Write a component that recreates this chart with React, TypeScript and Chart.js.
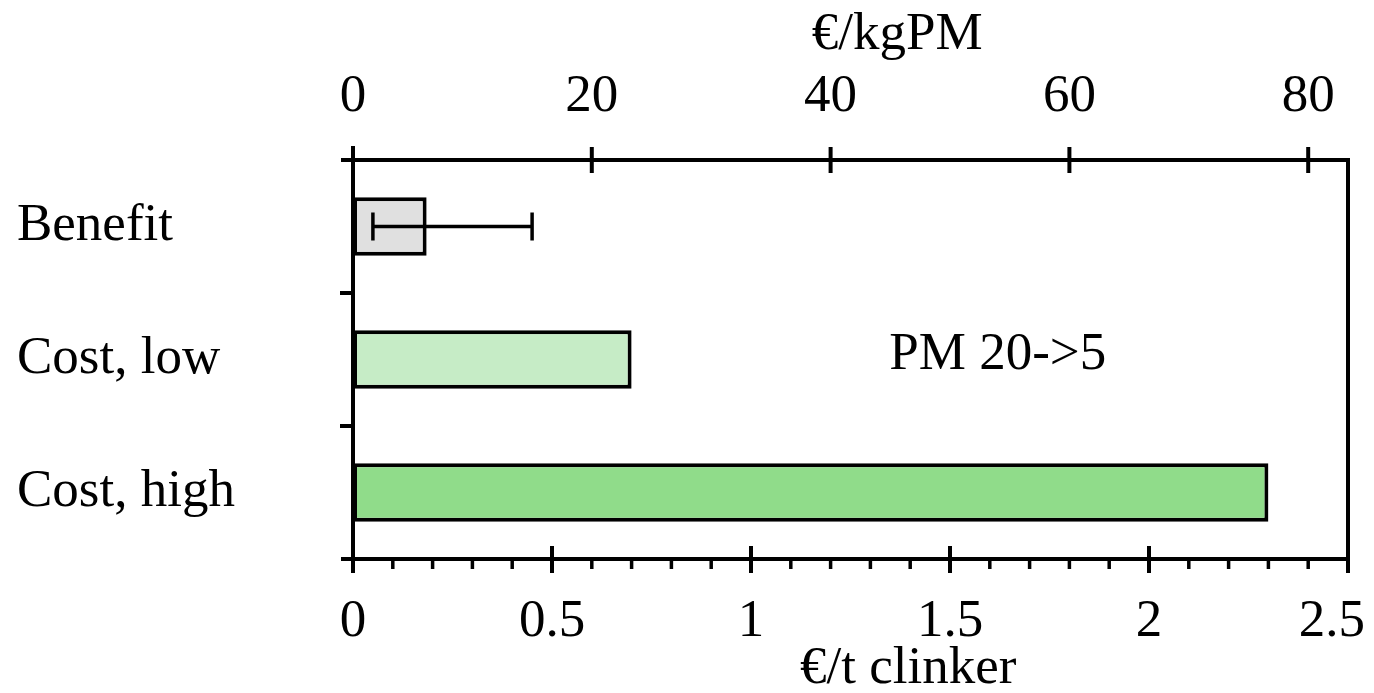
import React, { useEffect, useRef } from "react";
import { Chart, registerables } from "chart.js";

Chart.register(...registerables);

const CATEGORIES = ["Benefit", "Cost, low", "Cost, high"];
const VALUES = [0.185, 0.7, 2.3];
const ERROR_LOW = [0.05, null, null];
const ERROR_HIGH = [0.45, null, null];
const BAR_COLORS = ["#e0e0e0", "#c6ecc6", "#90dc8a"];
const BOTTOM_TICKS = [0, 0.5, 1, 1.5, 2, 2.5];
const BOTTOM_MINOR_TENTHS = 25; // minor ticks every 0.1 up to 2.5
const TOP_TICKS = [0, 20, 40, 60, 80];
const X_MAX = 2.5;
const KGPM_PER_T_CLINKER = 100 / 3; // €/kgPM per €/t clinker
const ANNOTATION = "PM 20->5";
const ANNOTATION_X = 1.62;
const ANNOTATION_CATEGORY = 1;
const TOP_TITLE = "€/kgPM";
const BOTTOM_TITLE = "€/t clinker";

const FONT_FAMILY = "'Liberation Serif', 'Times New Roman', serif";
const FONT_SIZE = 53;

const axesPlugin = {
  id: "customAxes",
  afterDraw(chart: any) {
    const { ctx, chartArea, scales, width } = chart;
    const { left, right, top, bottom } = chartArea;
    const x = scales.x;
    const x2 = scales.x2;
    const y = scales.y;
    ctx.save();
    ctx.strokeStyle = "#000";
    ctx.lineWidth = 4;
    ctx.lineCap = "butt";
    const line = (x1: number, y1: number, xx: number, yy: number) => {
      ctx.beginPath();
      ctx.moveTo(x1, y1);
      ctx.lineTo(xx, yy);
      ctx.stroke();
    };
    // frame
    line(left - 12, top, right + 2, top);
    line(left - 12, bottom, right + 2, bottom);
    line(left, top - 14, left, bottom + 14);
    line(right, top, right, bottom + 14);
    // bottom major ticks
    BOTTOM_TICKS.forEach((v) => {
      const px = x.getPixelForValue(v);
      line(px, bottom - 13, px, bottom + 14);
    });
    // bottom minor ticks
    ctx.lineWidth = 3.5;
    for (let i = 0; i <= BOTTOM_MINOR_TENTHS; i++) {
      if (i % 5 === 0) continue;
      const px = x.getPixelForValue(i / 10);
      line(px, bottom, px, bottom + 10);
    }
    ctx.lineWidth = 4;
    // top major ticks
    TOP_TICKS.forEach((v) => {
      const px = x2.getPixelForValue(v);
      line(px, top - 13, px, top + 13);
    });
    // left category boundary ticks
    for (let i = 1; i < CATEGORIES.length; i++) {
      const py = (y.getPixelForValue(i - 1) + y.getPixelForValue(i)) / 2;
      line(left - 13, py, left, py);
    }
    // error bars
    ctx.lineWidth = 3.5;
    CATEGORIES.forEach((_, i) => {
      const lo = ERROR_LOW[i];
      const hi = ERROR_HIGH[i];
      if (lo == null || hi == null) return;
      const py = y.getPixelForValue(i);
      const pl = x.getPixelForValue(lo);
      const ph = x.getPixelForValue(hi);
      line(pl, py, ph, py);
      line(pl, py - 14, pl, py + 14);
      line(ph, py - 14, ph, py + 14);
    });
    // tick labels of the two value axes
    ctx.fillStyle = "#000";
    ctx.font = `${FONT_SIZE}px ${FONT_FAMILY}`;
    ctx.textBaseline = "alphabetic";
    ctx.textAlign = "left";
    const drawLabel = (text: string, cx: number, baseline: number) => {
      const w = ctx.measureText(text).width;
      let lx = cx - w / 2;
      if (lx + w > width - 9) lx = width - 9 - w;
      ctx.fillText(text, lx, baseline);
    };
    x.ticks.forEach((t: any) => {
      drawLabel(String(t.value), x.getPixelForValue(t.value), bottom + 77);
    });
    x2.ticks.forEach((t: any) => {
      drawLabel(String(t.value), x2.getPixelForValue(t.value), top - 49);
    });
    // annotation and titles
    ctx.textAlign = "center";
    ctx.textBaseline = "middle";
    ctx.fillText(
      ANNOTATION,
      x.getPixelForValue(ANNOTATION_X),
      y.getPixelForValue(ANNOTATION_CATEGORY) - 4
    );
    const w = right - left;
    ctx.fillText(TOP_TITLE, left + w * 0.547, 35);
    ctx.fillText(BOTTOM_TITLE, left + w * 0.558, bottom + 110);
    ctx.restore();
  },
};

export default function App() {
  const canvasRef = useRef<HTMLCanvasElement | null>(null);

  useEffect(() => {
    document.body.style.margin = "0";
    const canvas = canvasRef.current;
    if (!canvas) return;
    const tickFont = { family: FONT_FAMILY, size: FONT_SIZE };
    const chart = new Chart(canvas, {
      type: "bar",
      data: {
        labels: CATEGORIES,
        datasets: [
          {
            data: VALUES,
            xAxisID: "x",
            yAxisID: "y",
            backgroundColor: BAR_COLORS,
            borderColor: "#000",
            borderWidth: 4,
            borderSkipped: false,
            barPercentage: 0.44,
            categoryPercentage: 1,
          },
        ],
      },
      options: {
        indexAxis: "y",
        animation: false,
        responsive: false,
        maintainAspectRatio: false,
        devicePixelRatio: 1,
        layout: { padding: { left: 17, right: 26, top: 0, bottom: 0 } },
        plugins: {
          legend: { display: false },
          tooltip: { enabled: false },
        },
        scales: {
          y: {
            type: "category",
            position: "left",
            grid: { display: false },
            border: { display: false },
            ticks: {
              font: tickFont,
              color: "#000",
              crossAlign: "far",
              padding: 0,
            },
            afterFit: (s: any) => {
              s.width = 336;
            },
          },
          x: {
            type: "linear",
            position: "bottom",
            min: 0,
            max: X_MAX,
            grid: { display: false },
            border: { display: false },
            ticks: { display: false },
            afterBuildTicks: (s: any) => {
              s.ticks = BOTTOM_TICKS.map((v) => ({ value: v }));
            },
            afterFit: (s: any) => {
              s.height = 134;
              s.paddingLeft = 0;
              s.paddingRight = 0;
            },
          },
          x2: {
            type: "linear",
            position: "top",
            display: true,
            min: 0,
            max: X_MAX * KGPM_PER_T_CLINKER,
            grid: { display: false },
            border: { display: false },
            ticks: { display: false },
            afterBuildTicks: (s: any) => {
              s.ticks = TOP_TICKS.map((v) => ({ value: v }));
            },
            afterFit: (s: any) => {
              s.height = 160;
              s.paddingLeft = 0;
              s.paddingRight = 0;
            },
          },
        },
      } as any,
      plugins: [axesPlugin],
    });
    return () => chart.destroy();
  }, []);

  return (
    <div style={{ width: 1374, height: 693, background: "#fff" }}>
      <canvas ref={canvasRef} width={1374} height={693} />
    </div>
  );
}
